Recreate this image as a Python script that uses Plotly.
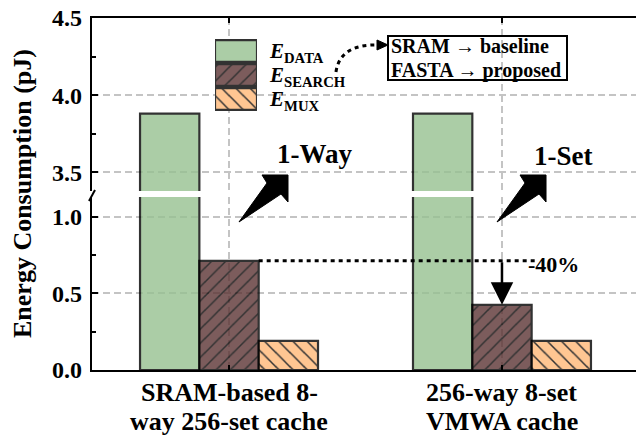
import plotly.graph_objects as go

# ---------------- data ----------------
categories = ["SRAM-based 8-<br>way 256-set cache", "256-way 8-set<br>VMWA cache"]
series_names = ["E_DATA", "E_SEARCH", "E_MUX"]
legend_labels = ["<i>E</i><sub>DATA</sub>", "<i>E</i><sub>SEARCH</sub>", "<i>E</i><sub>MUX</sub>"]
e_data = [3.88, 3.88]
e_search = [0.712, 0.425]
e_mux = [0.19, 0.19]
reduction_label = "-40%"
lower_ticks = [0.0, 0.5, 1.0]
upper_ticks = [3.5, 4.0, 4.5]

# ---------------- style ----------------
FONT = "Liberation Serif, Times New Roman, serif"
W, H = 636, 437
L, R, T, B = 92, 636, 18, 370          # plot area in pixels
colors = ["#97c191", "#5c3434", "#ffb878"]
shapes_pat = ["", "/", "\\"]
OPA = 0.8
BARGAP = 0.348


def px(x):
    return (x - L) / (R - L)


def py(y):
    return (B - y) / (B - T)


lower_dom = [0.0, py(197)]
upper_dom = [py(191), 1.0]
lower_rng = [0, 1.128]
upper_rng = [3.379, 4.5]

fig = go.Figure()
values = [e_data, e_search, e_mux]
for ax_x, ax_y in (("x", "y"), ("x2", "y2")):
    for name, vals, col, pat in zip(series_names, values, colors, shapes_pat):
        fig.add_trace(go.Bar(
            x=categories, y=vals, name=name, xaxis=ax_x, yaxis=ax_y,
            showlegend=False, opacity=OPA,
            marker=dict(color=col, line=dict(color="black", width=2.2),
                        pattern=dict(shape=pat, fgcolor="black", bgcolor=col,
                                     size=10, solidity=0.15, fillmode="replace")),
            hoverinfo="skip",
        ))

# legend swatches on their own little axes
for name, col, pat in zip(series_names, colors, shapes_pat):
    fig.add_trace(go.Bar(
        y=[name], x=[1], orientation="h", xaxis="x3", yaxis="y3",
        width=0.9, offsetgroup="legend", showlegend=False, opacity=OPA, hoverinfo="skip",
        marker=dict(color=col, line=dict(color="black", width=2.2),
                    pattern=dict(shape=pat, fgcolor="black", bgcolor=col,
                                 size=10, solidity=0.15, fillmode="replace")),
    ))

grid = dict(showgrid=True, gridcolor="#c4c4c4", griddash="7px,4px", gridwidth=1.5)
tickfont = dict(family=FONT, size=24, color="black", weight="bold")

xcommon = dict(range=[-0.502, 1.491], domain=[0, 1], ticks="inside", ticklen=5,
               tickwidth=2, tickcolor="black", showline=True, linecolor="black",
               linewidth=2.2, showticklabels=False, **grid)

ycommon = dict(tickformat=".1f", ticks="inside", ticklen=6, tickwidth=2, tickcolor="black",
               showline=True, linecolor="black", linewidth=2.2, zeroline=False,
               tickfont=tickfont, ticklabelstandoff=3,
               minor=dict(dtick=0.25, tick0=0, ticks="inside", ticklen=4, tickwidth=1.5,
                          tickcolor="black", showgrid=False),
               **grid)

fig.update_layout(
    width=W, height=H,
    margin=dict(l=L, r=W - R, t=T, b=H - B, autoexpand=False),
    paper_bgcolor="white", plot_bgcolor="white",
    barmode="group", bargap=BARGAP, bargroupgap=0,
    xaxis=dict(anchor="y", **xcommon),
    xaxis2=dict(anchor="y2", matches="x", side="top", **xcommon),
    yaxis=dict(anchor="x", domain=lower_dom, range=lower_rng, tickvals=lower_ticks, **ycommon),
    yaxis2=dict(anchor="x2", domain=upper_dom, range=upper_rng, tickvals=upper_ticks, **ycommon),
    xaxis3=dict(anchor="y3", domain=[px(215), px(257)], range=[0, 1], visible=False,
                fixedrange=True),
    yaxis3=dict(anchor="x3", domain=[py(111), py(39)], side="right", autorange="reversed",
                tickvals=series_names, ticktext=legend_labels, ticks="", showline=False,
                showgrid=False, ticklabelstandoff=12,
                tickfont=dict(family=FONT, size=21, color="black", weight="bold")),
    showlegend=False,
)

# ---------- annotations ----------
ann = []
big = dict(family=FONT, size=27, color="black", weight="bold")
catfont = dict(family=FONT, size=26, color="black", weight="bold")
# category labels (two lines each, tighter line spacing than tick labels allow)
for i, cat in enumerate(categories):
    for line_txt, ypix in zip(cat.split("<br>"), (392, 421)):
        ann.append(dict(xref="x", yref="paper", x=i, y=py(ypix), text=line_txt,
                        showarrow=False, xanchor="center", yanchor="middle", font=catfont))
ann.append(dict(xref="paper", yref="paper", x=px(22), y=py(194), text="Energy Consumption (pJ)",
                textangle=-90, showarrow=False, xanchor="center", yanchor="middle",
                font=dict(family=FONT, size=26, color="black", weight="bold")))
ann.append(dict(xref="paper", yref="paper", x=px(275), y=py(154), text="1-Way",
                showarrow=False, xanchor="left", font=big))
ann.append(dict(xref="paper", yref="paper", x=px(532), y=py(156), text="1-Set",
                showarrow=False, xanchor="left", font=big))
ann.append(dict(xref="paper", yref="paper", x=px(526), y=py(279), text=reduction_label,
                showarrow=False, xanchor="left",
                font=dict(family=FONT, size=22, color="black", weight="bold")))
ann.append(dict(xref="paper", yref="paper", x=px(389), y=py(46), text="SRAM \u2192 baseline",
                showarrow=False, xanchor="left", yanchor="middle",
                font=dict(family=FONT, size=20, color="black", weight="bold")))
ann.append(dict(xref="paper", yref="paper", x=px(389), y=py(70), text="FASTA \u2192 proposed",
                showarrow=False, xanchor="left", yanchor="middle",
                font=dict(family=FONT, size=20, color="black", weight="bold")))
# reduction arrow, from old E_SEARCH level to new one
ann.append(dict(xref="x", yref="y", x=1, y=e_search[1], axref="x", ayref="y",
                ax=1, ay=e_search[0], text="", showarrow=True, arrowhead=2,
                arrowsize=1.8, arrowwidth=2.5, arrowcolor="black", standoff=0))
fig.update_layout(annotations=ann)

# ---------- shapes ----------
shp = []
# box around the naming note
shp.append(dict(type="rect", xref="paper", yref="paper", x0=px(388), x1=px(567),
                y0=py(80), y1=py(36), line=dict(color="black", width=2)))
# dotted reference line at the baseline E_SEARCH level (from right edge of first E_SEARCH bar)
bar_w = (1 - BARGAP) / 3
shp.append(dict(type="line", xref="x", yref="y", x0=bar_w * 0.5, x1=1.12,
                y0=e_search[0], y1=e_search[0],
                line=dict(color="black", width=3, dash="4px,4px")))


def wedge(dx):
    pts = [(239, 222), (267, 183), (262, 175), (288, 175), (288, 202), (281, 194)]
    d = "M " + " L ".join(f"{px(x + dx):.4f},{py(y):.4f}" for x, y in pts) + " Z"
    return dict(type="path", xref="paper", yref="paper", path=d,
                fillcolor="black", line=dict(color="black", width=1))


shp.append(wedge(0))
shp.append(wedge(258))
# curved dotted pointer from legend to note box
curve = (f"M {px(336):.4f},{py(72):.4f} Q {px(340):.4f},{py(44):.4f} "
         f"{px(378):.4f},{py(45):.4f}")
shp.append(dict(type="path", xref="paper", yref="paper", path=curve,
                line=dict(color="black", width=3, dash="4px,4px")))
head = (f"M {px(388):.4f},{py(45):.4f} L {px(377):.4f},{py(40):.4f} "
        f"L {px(377):.4f},{py(50):.4f} Z")
shp.append(dict(type="path", xref="paper", yref="paper", path=head,
                fillcolor="black", line=dict(color="black", width=1)))
# axis break mark
shp.append(dict(type="line", xref="paper", yref="paper", x0=px(89), x1=px(95),
                y0=py(201), y1=py(190), line=dict(color="black", width=2)))
fig.update_layout(shapes=shp)

fig.write_html("out.html", config={"displayModeBar": False},
               post_script="document.body.style.margin='0px';")
